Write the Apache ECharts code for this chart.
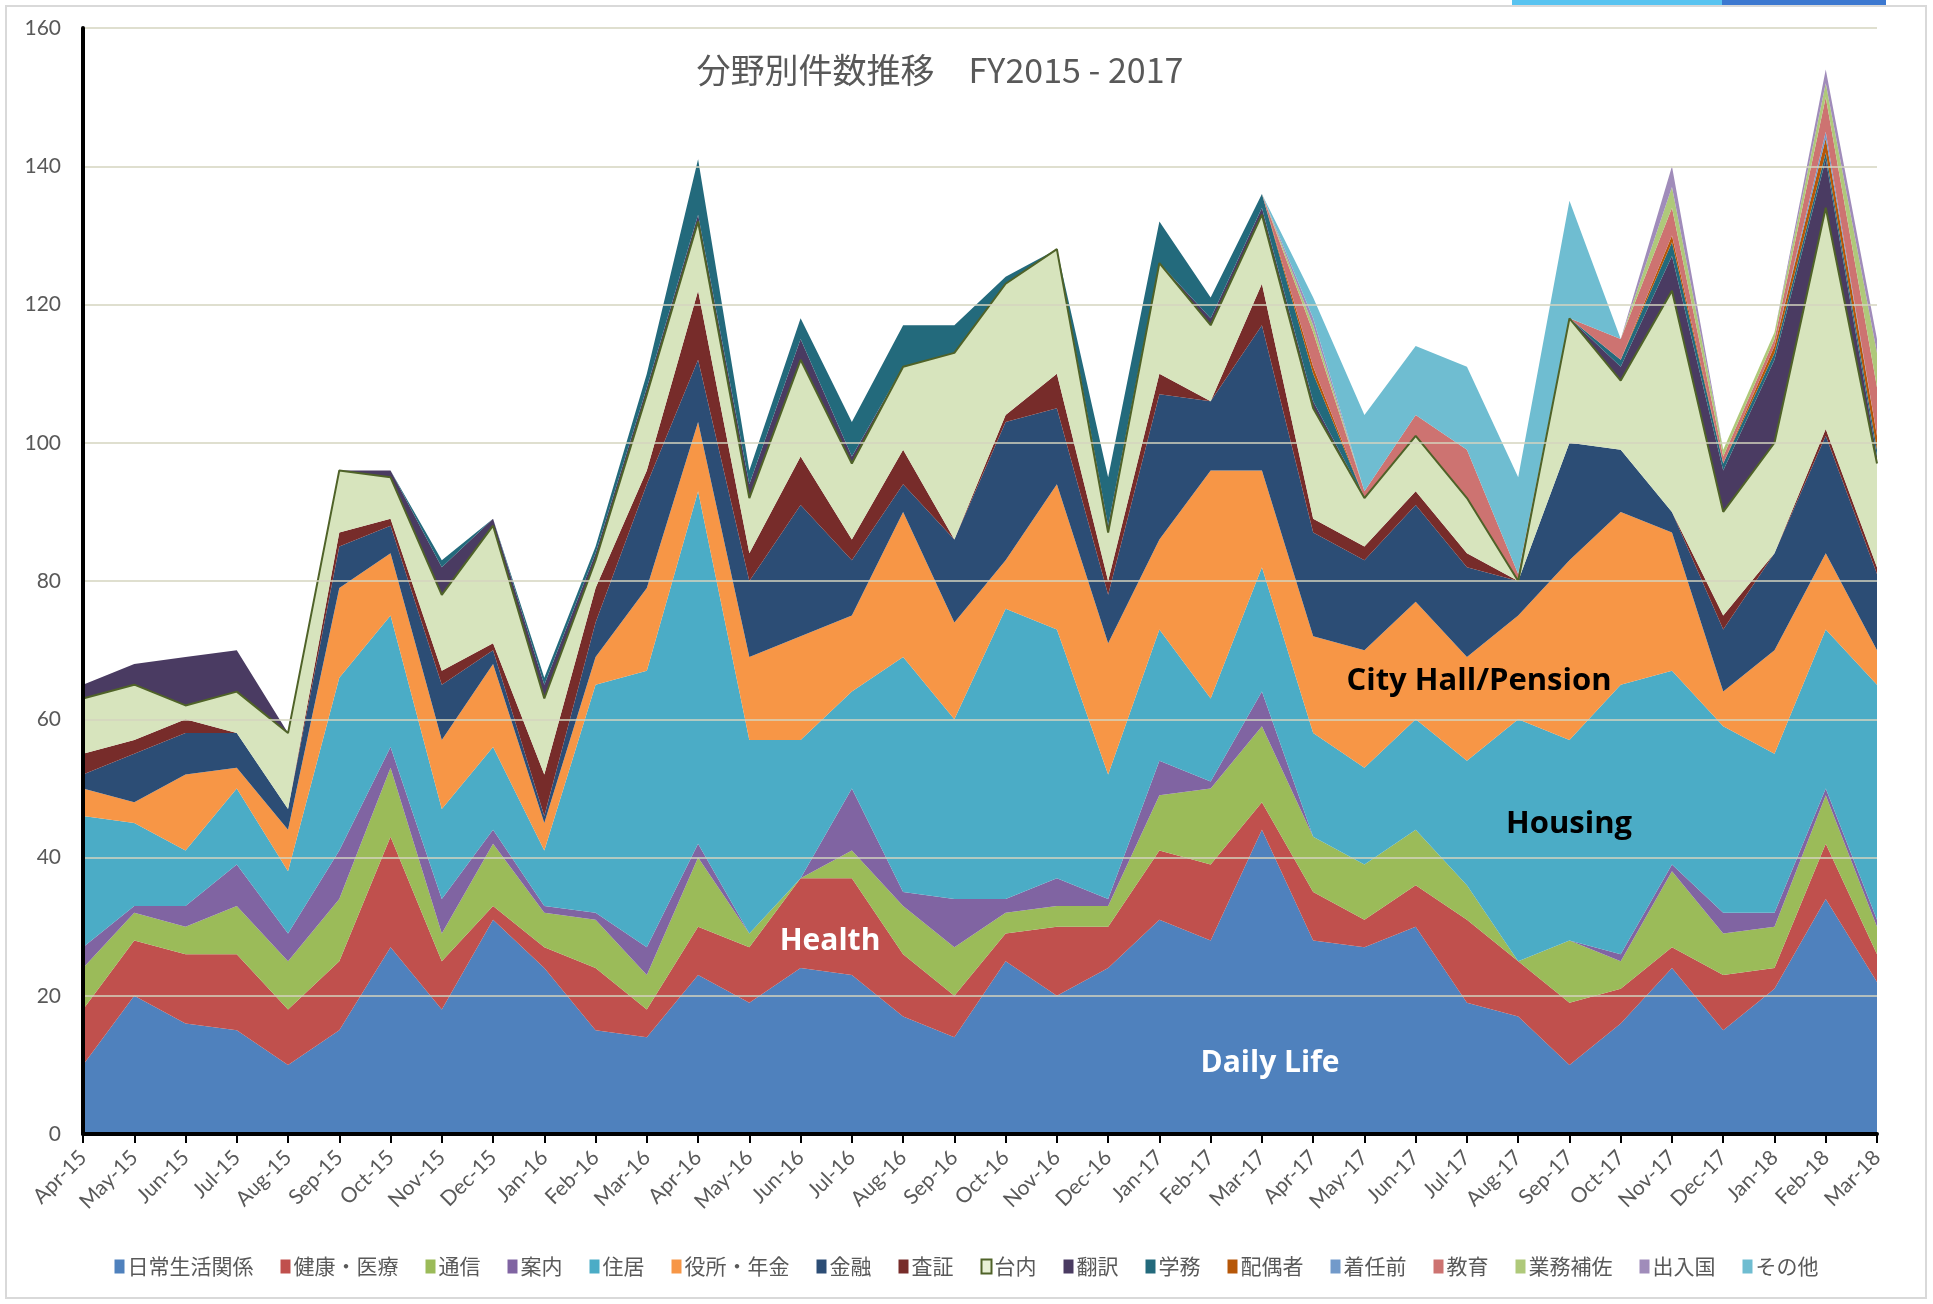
<!DOCTYPE html>
<html>
<head>
<meta charset="utf-8">
<title>分野別件数推移</title>
<script src="https://cdn.jsdelivr.net/npm/echarts@6/dist/echarts.min.js"></script>
<style>
  html, body { margin: 0; padding: 0; background: #fff; }
  #chart { width: 1933px; height: 1304px; }
</style>
</head>
<body>
<div id="chart"></div>
<script>
  const months = ['Apr-15', 'May-15', 'Jun-15', 'Jul-15', 'Aug-15', 'Sep-15', 'Oct-15', 'Nov-15', 'Dec-15',
    'Jan-16', 'Feb-16', 'Mar-16', 'Apr-16', 'May-16', 'Jun-16', 'Jul-16', 'Aug-16', 'Sep-16', 'Oct-16',
    'Nov-16', 'Dec-16', 'Jan-17', 'Feb-17', 'Mar-17', 'Apr-17', 'May-17', 'Jun-17', 'Jul-17', 'Aug-17',
    'Sep-17', 'Oct-17', 'Nov-17', 'Dec-17', 'Jan-18', 'Feb-18', 'Mar-18']
  const yTicks = [0, 20, 40, 60, 80, 100, 120, 140, 160]

  // monthly counts per field (stacked)
  const dailyLife = [10, 20, 16, 15, 10, 15, 27, 18, 31, 24, 15, 14, 23, 19, 24, 23, 17, 14, 25, 20, 24, 31, 28, 44, 28, 27, 30, 19, 17, 10, 16, 24, 15, 21, 34, 22]
  const health = [8, 8, 10, 11, 8, 10, 16, 7, 2, 3, 9, 4, 7, 8, 13, 14, 9, 6, 4, 10, 6, 10, 11, 4, 7, 4, 6, 12, 8, 9, 5, 3, 8, 3, 8, 4]
  const telecom = [6, 4, 4, 7, 7, 9, 10, 4, 9, 5, 7, 5, 10, 2, 0, 4, 7, 7, 3, 3, 3, 8, 11, 11, 8, 8, 8, 5, 0, 9, 4, 11, 6, 6, 7, 4]
  const guidance = [3, 1, 3, 6, 4, 7, 3, 5, 2, 1, 1, 4, 2, 0, 0, 9, 2, 7, 2, 4, 1, 5, 1, 5, 0, 0, 0, 0, 0, 0, 1, 1, 3, 2, 1, 1]
  const housing = [19, 12, 8, 11, 9, 25, 19, 13, 12, 8, 33, 40, 51, 28, 20, 14, 34, 26, 42, 36, 18, 19, 12, 18, 15, 14, 16, 18, 35, 29, 39, 28, 27, 23, 23, 34]
  const cityHall = [4, 3, 11, 3, 6, 13, 9, 10, 12, 4, 4, 12, 10, 12, 15, 11, 21, 14, 7, 21, 19, 13, 33, 14, 14, 17, 17, 15, 15, 26, 25, 20, 5, 15, 11, 5]
  const finance = [2, 7, 6, 5, 3, 6, 4, 8, 2, 1, 5, 15, 9, 11, 19, 8, 4, 12, 20, 11, 7, 21, 10, 21, 15, 13, 14, 13, 5, 17, 9, 3, 9, 14, 17, 11]
  const visa = [3, 2, 2, 0, 0, 2, 1, 2, 1, 6, 5, 2, 10, 4, 7, 3, 5, 0, 1, 5, 2, 3, 0, 6, 2, 2, 2, 2, 0, 0, 0, 0, 2, 0, 1, 1]
  const internal = [8, 8, 2, 6, 11, 9, 6, 11, 17, 11, 4, 11, 10, 8, 14, 11, 12, 27, 19, 18, 7, 16, 11, 10, 16, 7, 8, 8, 0, 18, 10, 32, 15, 16, 32, 15]
  const translation = [2, 3, 7, 6, 0, 0, 1, 4, 1, 2, 1, 1, 1, 2, 3, 1, 0, 0, 0, 0, 1, 0, 1, 1, 1, 0, 0, 0, 0, 0, 2, 5, 6, 12, 7, 1]
  const schoolAffairs = [0, 0, 0, 0, 0, 0, 0, 1, 0, 1, 1, 2, 8, 2, 3, 5, 6, 4, 1, 0, 7, 6, 3, 2, 4, 0, 0, 0, 0, 0, 1, 2, 1, 1, 1, 1]
  const spouse = [0, 0, 0, 0, 0, 0, 0, 0, 0, 0, 0, 0, 0, 0, 0, 0, 0, 0, 0, 0, 0, 0, 0, 0, 1, 0, 0, 0, 0, 0, 0, 1, 0, 1, 2, 2]
  const preArrival = [0, 0, 0, 0, 0, 0, 0, 0, 0, 0, 0, 0, 0, 0, 0, 0, 0, 0, 0, 0, 0, 0, 0, 0, 0, 0, 0, 0, 0, 0, 0, 0, 0, 0, 1, 0]
  const education = [0, 0, 0, 0, 0, 0, 0, 0, 0, 0, 0, 0, 0, 0, 0, 0, 0, 0, 0, 0, 0, 0, 0, 0, 5, 1, 3, 7, 1, 0, 3, 4, 1, 1, 5, 7]
  const workSupport = [0, 0, 0, 0, 0, 0, 0, 0, 0, 0, 0, 0, 0, 0, 0, 0, 0, 0, 0, 0, 0, 0, 0, 0, 1, 0, 0, 0, 0, 0, 0, 3, 1, 1, 2, 5]
  const immigration = [0, 0, 0, 0, 0, 0, 0, 0, 0, 0, 0, 0, 0, 0, 0, 0, 0, 0, 0, 0, 0, 0, 0, 0, 1, 0, 0, 0, 0, 0, 0, 3, 0, 0, 2, 2]
  const others = [0, 0, 0, 0, 0, 0, 0, 0, 0, 0, 0, 0, 0, 0, 0, 0, 0, 0, 0, 0, 0, 0, 0, 0, 3, 11, 10, 12, 14, 17, 0, 0, 0, 0, 0, 0]

  const seriesNames = ['日常生活関係', '健康・医療', '通信', '案内', '住居', '役所・年金', '金融', '査証', '台内',
    '翻訳', '学務', '配偶者', '着任前', '教育', '業務補佐', '出入国', 'その他']
  const seriesData = [dailyLife, health, telecom, guidance, housing, cityHall, finance, visa, internal,
    translation, schoolAffairs, spouse, preArrival, education, workSupport, immigration, others]
  const seriesColors = ['#4F81BD', '#C0504D', '#9BBB59', '#8064A2', '#4BACC6', '#F79646', '#2C4D75', '#772C2A', '#D7E4BD',
    '#4A3B62', '#236A7C', '#B65708', '#729ACA', '#CD7371', '#AFC97A', '#A08CBA', '#6FBDD1']

  const chart = echarts.init(document.getElementById('chart'))

  const series = seriesNames.map((name, i) => {
    const isInternal = name === '台内'
    return {
      name: name,
      type: 'line',
      stack: 'total',
      data: seriesData[i],
      symbol: 'none',
      smooth: false,
      color: seriesColors[i],
      itemStyle: { color: seriesColors[i] },
      lineStyle: isInternal ? { color: '#4F6228', width: 2 } : { width: 0 },
      areaStyle: { color: seriesColors[i], opacity: 1 },
      emphasis: { disabled: true },
      z: 2
    }
  })

  const option = {
    backgroundColor: '#fff',
    animation: false,
    textStyle: { fontFamily: 'Lato, "Noto Sans CJK JP", sans-serif' },
    legend: {
      bottom: 22,
      left: 'center',
      icon: 'rect',
      itemWidth: 10,
      itemHeight: 14,
      itemGap: 27,
      textStyle: { fontSize: 21, color: '#595959', fontFamily: '"Noto Sans CJK JP", sans-serif', padding: [0, 0, 0, -2] },
      data: seriesNames.map((name, i) => name === '台内'
        ? { name: name, itemStyle: { color: '#E8F0D6', borderColor: '#4F6228', borderWidth: 2 } }
        : { name: name, itemStyle: { color: seriesColors[i] } })
    },
    grid: {
      left: 83,
      right: 56,
      top: 28,
      bottom: 170
    },
    xAxis: {
      type: 'category',
      boundaryGap: false,
      data: months,
      axisLine: { lineStyle: { color: '#000', width: 4 } },
      axisTick: { show: true, interval: 0, length: 9, lineStyle: { color: '#000', width: 2 } },
      axisLabel: { interval: 0, rotate: 45, margin: 20, fontSize: 21, color: '#595959' },
      splitLine: { show: false },
      z: 5
    },
    yAxis: {
      type: 'value',
      min: yTicks[0],
      max: yTicks[yTicks.length - 1],
      interval: yTicks[1] - yTicks[0],
      axisLine: { show: true, lineStyle: { color: '#000', width: 4 } },
      axisTick: { show: false },
      axisLabel: { fontSize: 21, color: '#595959', margin: 22 },
      splitLine: { lineStyle: { color: '#D5D5BF', width: 1.5 } },
      z: 5
    },
    graphic: [
      { type: 'rect', silent: true, z: -10, shape: { x: 6, y: 6, width: 1920, height: 1292 },
        style: { fill: 'none', stroke: '#D9D9D9', lineWidth: 2 } },
      { type: 'rect', silent: true, shape: { x: 1512, y: 0, width: 210, height: 5 }, style: { fill: '#58C3F0' } },
      { type: 'rect', silent: true, shape: { x: 1722, y: 0, width: 164, height: 5 }, style: { fill: '#3C78D0' } },
      { type: 'text', silent: true, z: 20, style: { text: '分野別件数推移　FY2015 - 2017', x: 940, y: 70,
        textAlign: 'center', textVerticalAlign: 'middle', fill: '#595959',
        font: '34px "Noto Sans CJK JP", sans-serif' } },
      { type: 'text', silent: true, z: 20, style: { text: 'City Hall/Pension', x: 1479, y: 681,
        textAlign: 'center', textVerticalAlign: 'middle', fill: '#000', font: 'bold 31px "Open Sans", sans-serif' } },
      { type: 'text', silent: true, z: 20, style: { text: 'Housing', x: 1569, y: 824,
        textAlign: 'center', textVerticalAlign: 'middle', fill: '#000', font: 'bold 31px "Open Sans", sans-serif' } },
      { type: 'text', silent: true, z: 20, style: { text: 'Health', x: 830, y: 941,
        textAlign: 'center', textVerticalAlign: 'middle', fill: '#fff', font: 'bold 30px "Open Sans", sans-serif' } },
      { type: 'text', silent: true, z: 20, style: { text: 'Daily Life', x: 1270, y: 1063,
        textAlign: 'center', textVerticalAlign: 'middle', fill: '#fff', font: 'bold 30px "Open Sans", sans-serif' } }
    ],
    series: series
  }

  chart.setOption(option)
</script>
</body>
</html>
